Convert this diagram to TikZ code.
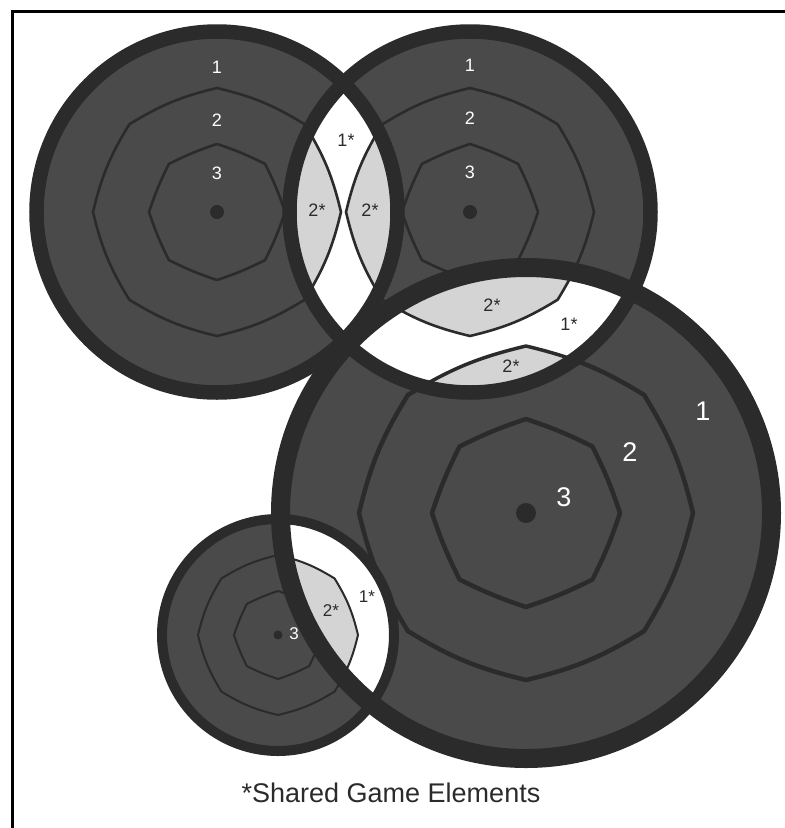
\documentclass[tikz,border=0pt]{standalone}
\usepackage{fontspec}
\setmainfont{Liberation Sans}
\definecolor{ringc}{HTML}{2B2B2B}
\definecolor{face}{HTML}{4A4A4A}
\definecolor{shared}{HTML}{D4D4D4}
\newcommand\octo[2]{(0:#1) to[bend left=#2] (45:#1) to[bend left=#2] (90:#1) to[bend left=#2] (135:#1) to[bend left=#2] (180:#1) to[bend left=#2] (225:#1) to[bend left=#2] (270:#1) to[bend left=#2] (315:#1) to[bend left=#2] (360:#1) -- cycle}
\tikzset{
  ringline/.style={draw=ringc, line join=round},
  wnum/.style={text=white, inner sep=0pt},
  snum/.style={text=ringc, inner sep=0pt},
}
\begin{document}
\begin{tikzpicture}[x=1pt,y=-1pt]
\useasboundingbox (0,0) rectangle (785,828);
\coordinate (A) at (217,212);
\coordinate (B) at (470,212);
\coordinate (C) at (526,513);
\coordinate (D) at (278,635);
% frame
\coordinate (f1) at (12.5,828);
\coordinate (f2) at (785,11.5);
\draw[line width=3pt] (f1) |- (f2);
% faces
\fill[face] (A) circle (181);
\draw[ringline, line width=2.6pt, shift={(A)}] \octo{124}{9};
\draw[ringline, line width=2.6pt, shift={(A)}] \octo{68}{4};
\fill[ringc] (A) circle (7);
\fill[face] (B) circle (181);
\draw[ringline, line width=2.6pt, shift={(B)}] \octo{124}{9};
\draw[ringline, line width=2.6pt, shift={(B)}] \octo{68}{4};
\fill[ringc] (B) circle (7);
\fill[face] (C) circle (246);
\draw[ringline, line width=4.5pt, shift={(C)}] \octo{167}{9};
\draw[ringline, line width=4.5pt, shift={(C)}] \octo{94}{4};
\fill[ringc] (C) circle (10);
\fill[face] (D) circle (116);
\draw[ringline, line width=2pt, shift={(D)}] \octo{80}{9};
\draw[ringline, line width=2pt, shift={(D)}] \octo{44}{4};
\fill[ringc] (D) circle (4.5);
% lens A-B
\begin{scope}
\clip (A) circle (180.5);
\clip (B) circle (180.5);
\fill[white] (A) circle (181);
\fill[shared, shift={(A)}] \octo{124}{9};
\fill[shared, shift={(B)}] \octo{124}{9};
\draw[ringline, line width=2.6pt, shift={(A)}] \octo{124}{9};
\draw[ringline, line width=2.6pt, shift={(B)}] \octo{124}{9};
\end{scope}
% lens B-C
\begin{scope}
\clip (B) circle (180.5);
\clip (C) circle (245.5);
\fill[white] (B) circle (181);
\fill[shared, shift={(B)}] \octo{124}{9};
\fill[shared, shift={(C)}] \octo{167}{9};
\draw[ringline, line width=2.6pt, shift={(B)}] \octo{124}{9};
\draw[ringline, line width=3.5pt, shift={(C)}] \octo{167}{9};
\end{scope}
% lens C-D
\begin{scope}
\clip (C) circle (245.5);
\clip (D) circle (116);
\fill[white] (D) circle (117);
\fill[shared, shift={(D)}] \octo{80}{9};
\draw[ringline, line width=2pt, shift={(D)}] \octo{80}{9};
\end{scope}
% borders
\draw[ringc, line width=14.5pt] (A) circle (180.5);
\draw[ringc, line width=14.5pt] (B) circle (180.5);
\draw[ringc, line width=19pt] (C) circle (245.5);
\draw[ringc, line width=10pt] (D) circle (116);
% labels
\begin{scope}[font=\fontsize{18}{20}\selectfont]
\node[wnum] (a1) at (217,67) {1};
\node[wnum] (a2) at (217,120) {2};
\node[wnum] (a3) at (217,173) {3};
\node[wnum] (b1) at (470,65) {1};
\node[wnum] (b2) at (470,118) {2};
\node[wnum] (b3) at (470,172) {3};
\node[snum] (ab1) at (346,140) {1*};
\node[snum] (ab2) at (317,210) {2*};
\node[snum] (ab3) at (370,210) {2*};
\node[snum] (bc2) at (492,305) {2*};
\node[snum] (bc1) at (569,324) {1*};
\node[snum] (bc3) at (511,366) {2*};
\end{scope}
\begin{scope}[font=\fontsize{27}{30}\selectfont]
\node[wnum] (c1) at (703,411) {1};
\node[wnum] (c2) at (630,452) {2};
\node[wnum] (c3) at (564,497) {3};
\end{scope}
\begin{scope}[font=\fontsize{17}{19}\selectfont]
\node[wnum] (d3) at (294,634) {3};
\node[snum] (cd1) at (367,597) {1*};
\node[snum] (cd2) at (331,611) {2*};
\end{scope}
\node[text=ringc, font=\fontsize{27}{30}\selectfont] (cap) at (391,793) {*Shared Game Elements};
\end{tikzpicture}
\end{document}
